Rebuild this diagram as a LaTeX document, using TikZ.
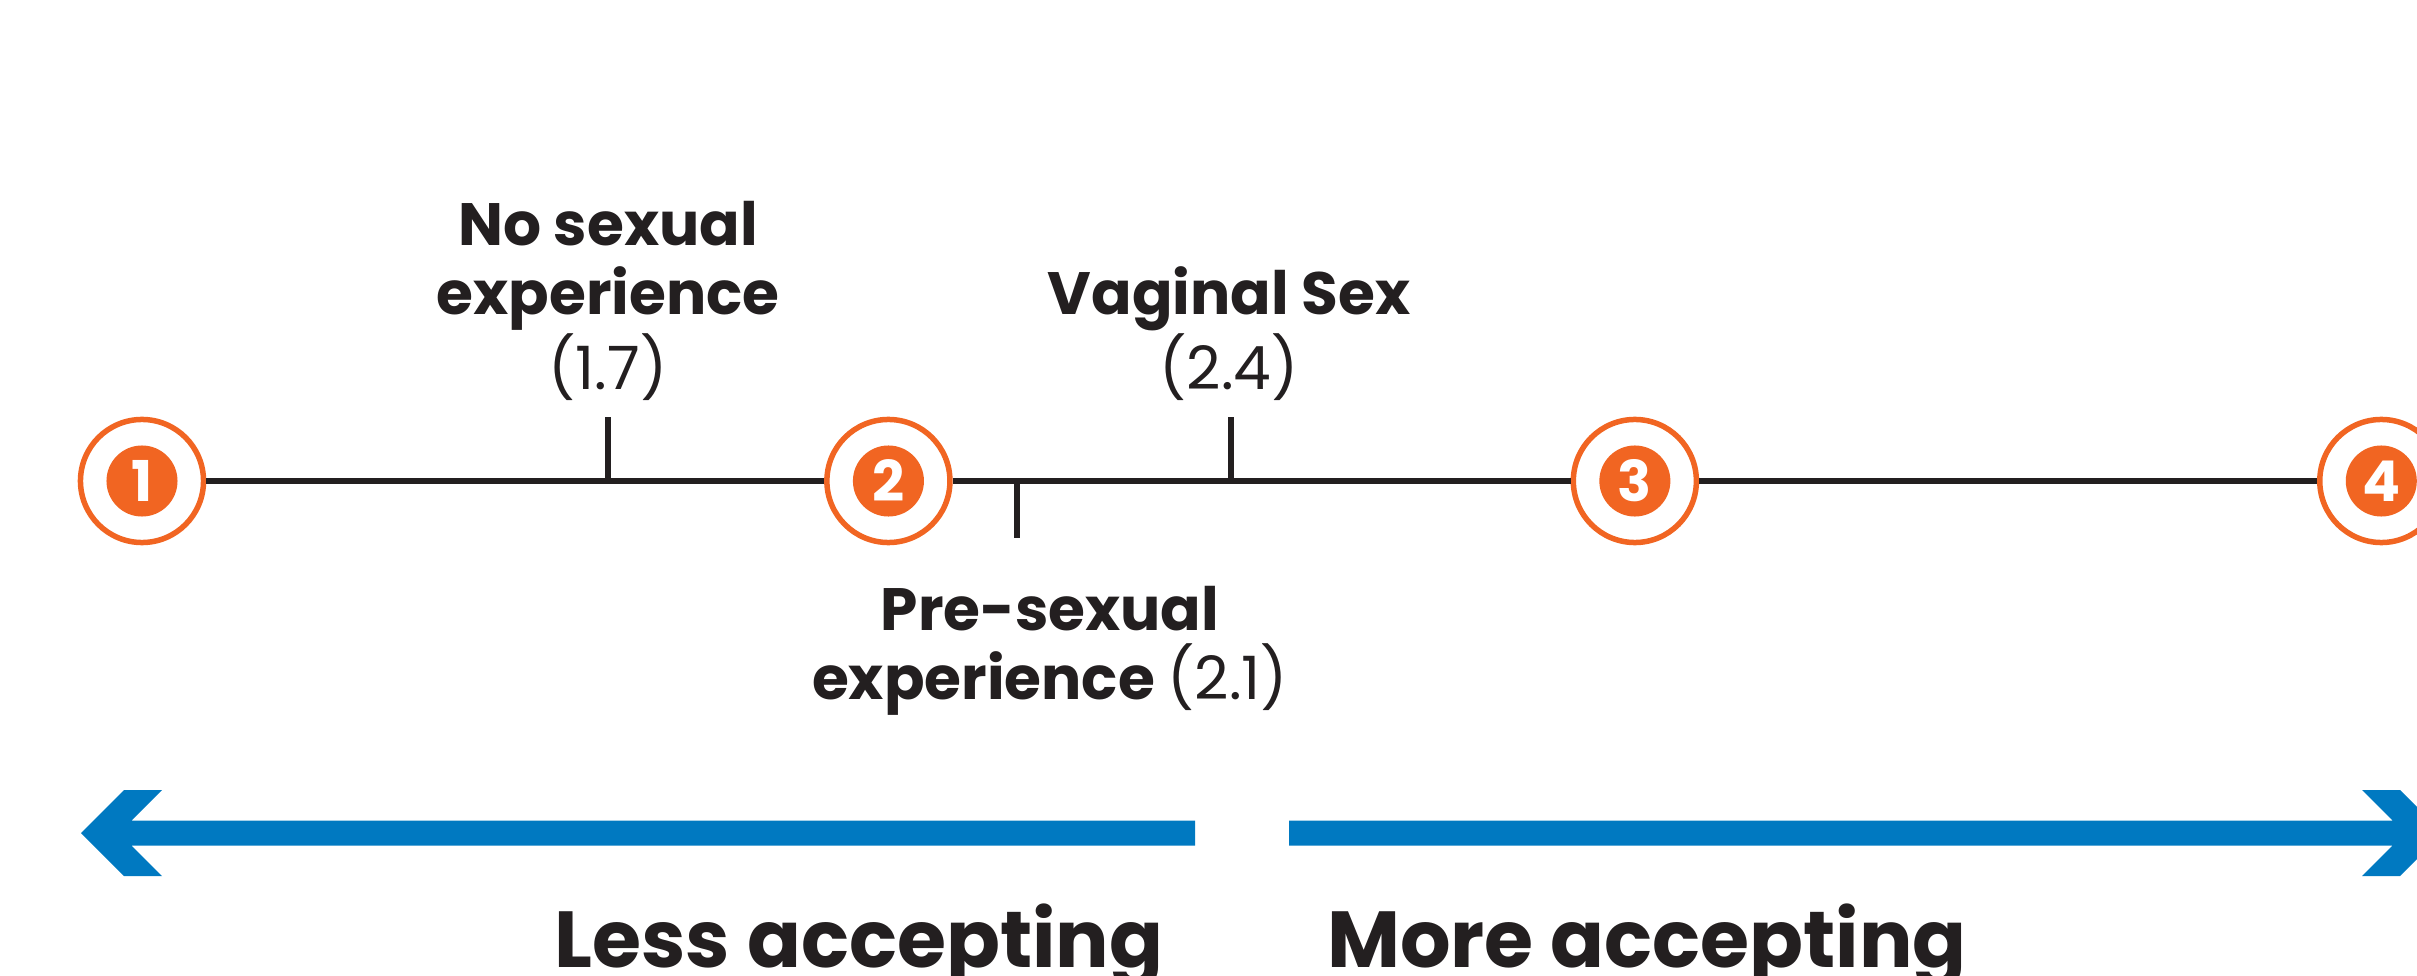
\documentclass[tikz,border=0pt]{standalone}
\usepackage{fontspec}
\setmainfont{Poppins}
\usetikzlibrary{positioning}
\definecolor{scaleorange}{RGB}{241,101,34}
\definecolor{scaleblue}{RGB}{0,121,193}
\definecolor{ink}{RGB}{35,31,32}

\begin{document}
\begin{tikzpicture}[
		x=0.01cm,y=0.01cm,
		node distance=6.175cm,
		point/.style={circle,draw=scaleorange,fill=white,line width=0.055cm,
			minimum size=1.23cm,inner sep=0pt,text=white,
			font=\bfseries\fontsize{16}{16}\selectfont,
			path picture={\fill[scaleorange] (path picture bounding box.center) circle (0.355cm);}},
		axis/.style={draw=ink,line width=0.065cm},
		tick/.style={draw=ink,line width=0.065cm},
		lbl/.style={align=center,text=ink,inner sep=0pt,anchor=base,
			font=\bfseries\fontsize{17}{19.6}\selectfont},
		side/.style={text=ink,inner sep=0pt,anchor=base,
			font=\bfseries\fontsize{22.6}{24}\selectfont}
		]
		\useasboundingbox (0,0) rectangle (2417,975);
		\clip (0,0) rectangle (2417,975);
		% scale points
		\node[point] (p1) at (142,494) {1};
		\node[point,right=of p1] (p2) {2};
		\node[point,right=of p2] (p3) {3};
		\node[point,right=of p3] (p4) {4};
		\path[axis] (p1) -- (p2) (p2) -- (p3) (p3) -- (p4);
		% mean scores
		\coordinate (t17) at (608,494);
		\coordinate (t21) at (1017,494);
		\coordinate (t24) at (1231,494);
		\draw[tick] (t17) -- ++(0,64);
		\draw[tick] (t21) -- ++(0,-57);
		\draw[tick] (t24) -- ++(0,64);
		\node[lbl] (nosex) at (608,585) {No sexual\\experience\\\mdseries(1.7)};
		\node[lbl] (vaginal) at (1229,585) {Vaginal Sex\\\mdseries(2.4)};
		\node[lbl] (presex) at (1050,276) {Pre-sexual\\experience {\mdseries(2.1)}};
		% direction arrows
		\coordinate (lesstip) at (81,142);
		\coordinate (moretip) at (2443,142);
		\fill[scaleblue] (lesstip) -- ++(43,43) -- ++(38,0) -- ++(-30.5,-30.5)
			-- (1195,154.5) -- (1195,129.5) -- ++(-1063.5,0) -- ++(30.5,-30.5)
			-- ++(-38,0) -- cycle;
		\fill[scaleblue] (moretip) -- ++(-43,43) -- ++(-38,0) -- ++(30.5,-30.5)
			-- (1289,154.5) -- (1289,129.5) -- ++(1103.5,0) -- ++(-30.5,-30.5)
			-- ++(38,0) -- cycle;
		\node[side] (less) at (859,8) {Less accepting};
		\node[side] (more) at (1647,8) {More accepting};
	\end{tikzpicture}
\end{document}
